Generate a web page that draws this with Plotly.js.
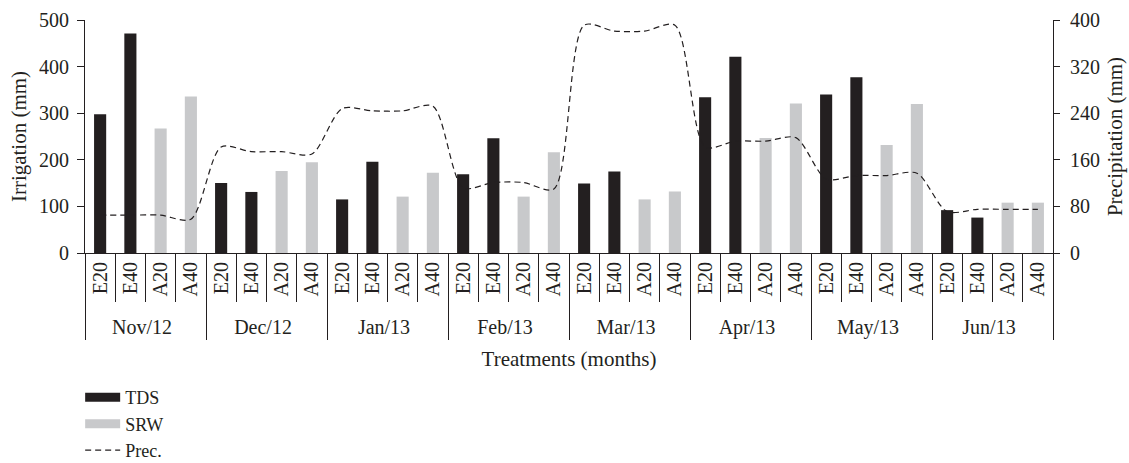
<!DOCTYPE html>
<html>
<head>
<meta charset="utf-8">
<script src="https://cdn.plot.ly/plotly-3.0.1.min.js"></script>
<style>html,body{margin:0;padding:0;background:#fff;}#chart{width:1129px;height:463px;}</style>
</head>
<body>
<div id="chart"></div>
<script>
var months = ["Nov/12","Dec/12","Jan/13","Feb/13","Mar/13","Apr/13","May/13","Jun/13"];
var treatments = ["E20","E40","A20","A40"];
// Irrigation (mm), TDS treatments (E20, E40) per month
var tdsE20 = [298,150,115,169,149,334,340,92];
var tdsE40 = [471,131,196,246,175,421,377,76];
// Irrigation (mm), SRW treatments (A20, A40) per month
var srwA20 = [267,176,121,121,115,247,232,108];
var srwA40 = [336,195,172,216,132,321,320,108];
// Precipitation (mm) at E20, E40, A20, A40 per month
var precE20 = [65,182,248,112,391,182,127,71];
var precE40 = [65,174,244,121,381,192,133,75];
var precA20 = [65,174,244,121,381,192,133,75];
var precA40 = [58,170,252,110,391,198,137,75];

var xMonth = [], xTreat = [], tds = [], srw = [], prec = [];
for (var i = 0; i < months.length; i++) {
  var row = [[tdsE20[i], null, precE20[i]], [tdsE40[i], null, precE40[i]], [null, srwA20[i], precA20[i]], [null, srwA40[i], precA40[i]]];
  for (var j = 0; j < treatments.length; j++) {
    xMonth.push(months[i]); xTreat.push(treatments[j]);
    tds.push(row[j][0]); srw.push(row[j][1]); prec.push(row[j][2]);
  }
}
var x = [xMonth, xTreat];
var ink = "#231f20";
var fam = "Liberation Serif, Times New Roman, serif";
var font = {family: fam, size: 20, color: ink};
var tfont = {family: fam, size: 21, color: ink};
var lfont = {family: fam, size: 18, color: ink};

var data = [
  {type: "bar", name: "TDS", x: x, y: tds, width: 0.4, marker: {color: ink}, showlegend: false},
  {type: "bar", name: "SRW", x: x, y: srw, width: 0.4, marker: {color: "#c8c9cb"}, showlegend: false},
  {type: "scatter", mode: "lines", name: "TDS", x: [[months[0]],[treatments[0]]], y: [null],
   line: {color: ink, width: 9}, hoverinfo: "skip"},
  {type: "scatter", mode: "lines", name: "SRW", x: [[months[0]],[treatments[0]]], y: [null],
   line: {color: "#c8c9cb", width: 9}, hoverinfo: "skip"},
  {type: "scatter", mode: "lines", name: "Prec.", x: x, y: prec, yaxis: "y2",
   line: {color: ink, width: 1.2, dash: "6px,4px", shape: "spline", smoothing: 0.8}}
];

var layout = {
  width: 1129, height: 463,
  margin: {l: 85, r: 76, t: 20, b: 210, autoexpand: false},
  paper_bgcolor: "#fff", plot_bgcolor: "#fff",
  font: font,
  barmode: "overlay",
  showlegend: true,
  legend: {x: -0.005, xanchor: "left", y: -0.541, yanchor: "top",
           orientation: "v", font: lfont, tracegroupgap: 0, itemwidth: 35, bgcolor: "rgba(0,0,0,0)"},
  xaxis: {type: "multicategory", automargin: false, showline: true, linecolor: ink, linewidth: 1,
          ticks: "outside", tickson: "boundaries", ticklen: 48, tickcolor: ink,
          tickangle: -90, showdividers: true, dividercolor: ink, dividerwidth: 1,
          showgrid: false, tickfont: font,
          title: {text: "Treatments (months)", font: tfont, standoff: 12}},
  yaxis: {range: [0, 500], dtick: 100, automargin: false, showline: true, linecolor: ink, ticks: "outside",
          ticklen: 7, tickcolor: ink, ticklabelstandoff: 4, showgrid: false, zeroline: false, tickfont: font,
          title: {text: "Irrigation (mm)", font: tfont, standoff: 6}},
  yaxis2: {range: [0, 400], dtick: 80, overlaying: "y", side: "right", automargin: false, showline: true,
           linecolor: ink, ticks: "outside", ticklen: 6, tickcolor: ink, ticklabelstandoff: 6,
           showgrid: false, zeroline: false, tickfont: font,
           title: {text: "Precipitation (mm)", font: tfont, standoff: 8}}
};

Plotly.newPlot("chart", data, layout, {displayModeBar: false, staticPlot: true});
</script>
</body>
</html>
